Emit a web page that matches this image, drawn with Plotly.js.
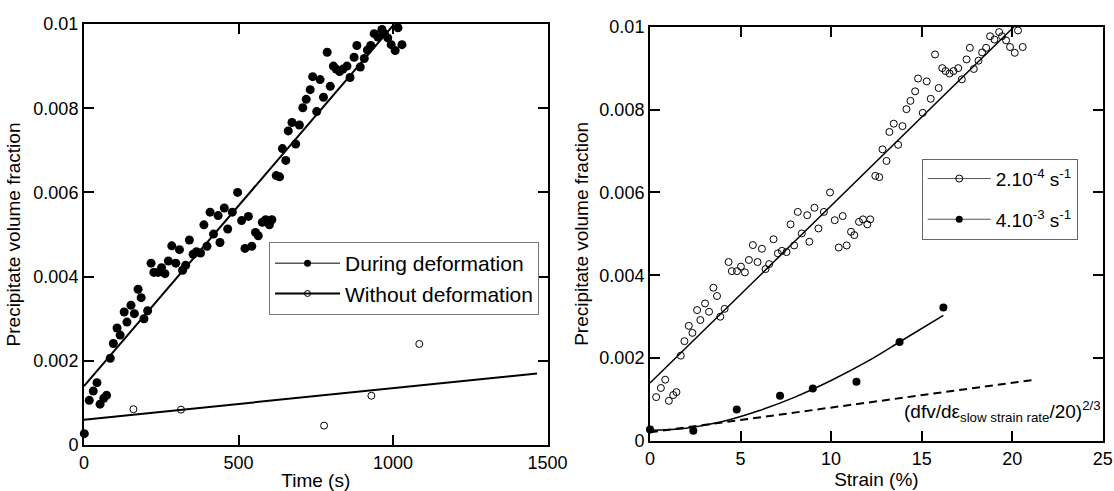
<!DOCTYPE html>
<html>
<head>
<meta charset="utf-8">
<script src="https://cdn.plot.ly/plotly-3.0.1.min.js"></script>
<style>html,body{margin:0;padding:0;background:#fff;}#chart{width:1114px;height:491px;}</style>
</head>
<body>
<div id="chart"></div>
<script>
// ---- Left panel: precipitate volume fraction vs time ----
const timeDuring = [1,17,30,42,52,64,73,85,95,107,117,130,139,152,163,175,185,194,206,217,226,240,251,262,273,284,297,309,319,329,341,353,364,377,388,398,408,419,434,440,454,465,480,497,510,521,532,543,555,564,577,588,600,608,622,633,642,653,661,673,685,697,708,719,732,740,753,764,775,787,797,807,816,827,838,851,861,874,883,894,907,917,928,939,951,964,972,983,994,1007,1016,1029];
const fvDuring = [0.00027,0.00106,0.00128,0.00148,0.00097,0.00111,0.00118,0.00206,0.00241,0.00278,0.00261,0.00316,0.00292,0.00332,0.00312,0.0037,0.0035,0.0030,0.00319,0.00432,0.0041,0.0041,0.00421,0.00407,0.00437,0.00473,0.00432,0.00464,0.00415,0.00427,0.00487,0.00453,0.00459,0.00456,0.00523,0.00472,0.00553,0.00501,0.00545,0.00481,0.00563,0.00513,0.00553,0.0060,0.00533,0.00467,0.00543,0.00472,0.00505,0.00497,0.00529,0.00535,0.00523,0.00535,0.0064,0.00637,0.00704,0.00676,0.00746,0.00766,0.00715,0.0076,0.00801,0.00821,0.00844,0.00875,0.00792,0.00868,0.00826,0.00933,0.00852,0.009,0.00893,0.00887,0.00893,0.009,0.00873,0.00921,0.00949,0.00898,0.00918,0.00938,0.00949,0.00977,0.00969,0.00987,0.00977,0.00967,0.00951,0.00937,0.00991,0.00951];
const timeWithout = [160,314,777,930,1085];
const fvWithout = [0.00085,0.00084,0.00046,0.00117,0.0024];
const fitDuringT = [0,1004];
const fitDuringV = [0.0014,0.01];
const fitWithoutT = [0,1466];
const fitWithoutV = [0.00060,0.0017];

// ---- Right panel: precipitate volume fraction vs strain ----
const strainSlow = [0.34,0.6,0.84,1.04,1.28,1.46,1.7,1.9,2.14,2.34,2.6,2.78,3.04,3.26,3.5,3.7,3.88,4.12,4.34,4.52,4.8,5.02,5.24,5.46,5.68,5.94,6.18,6.38,6.58,6.82,7.06,7.28,7.54,7.76,7.96,8.16,8.38,8.68,8.8,9.08,9.3,9.6,9.94,10.2,10.42,10.64,10.86,11.1,11.28,11.54,11.76,12.0,12.16,12.44,12.66,12.84,13.06,13.22,13.46,13.7,13.94,14.16,14.38,14.64,14.8,15.06,15.28,15.5,15.74,15.94,16.14,16.32,16.54,16.76,17.02,17.22,17.48,17.66,17.88,18.14,18.34,18.56,18.78,19.02,19.28,19.44,19.66,19.88,20.14,20.32,20.58];
const fvSlow = [0.00106,0.00128,0.00148,0.00097,0.00111,0.00118,0.00206,0.00241,0.00278,0.00261,0.00316,0.00292,0.00332,0.00312,0.0037,0.0035,0.0030,0.00319,0.00432,0.0041,0.0041,0.00421,0.00407,0.00437,0.00473,0.00432,0.00464,0.00415,0.00427,0.00487,0.00453,0.00459,0.00456,0.00523,0.00472,0.00553,0.00501,0.00545,0.00481,0.00563,0.00513,0.00553,0.0060,0.00533,0.00467,0.00543,0.00472,0.00505,0.00497,0.00529,0.00535,0.00523,0.00535,0.0064,0.00637,0.00704,0.00676,0.00746,0.00766,0.00715,0.0076,0.00801,0.00821,0.00844,0.00875,0.00792,0.00868,0.00826,0.00933,0.00852,0.009,0.00893,0.00887,0.00893,0.009,0.00873,0.00921,0.00949,0.00898,0.00918,0.00938,0.00949,0.00977,0.00969,0.00987,0.00977,0.00967,0.00951,0.00937,0.00991,0.00951];
const strainFast = [0,2.39,4.79,7.18,8.99,11.4,13.78,16.2];
const fvFast = [0.00028,0.00025,0.00076,0.00109,0.00127,0.00143,0.00239,0.00322];
const fitSlowStrain = [0,20.1];
const fitSlowV = [0.0014,0.01];
const fitFastStrain = [0,2,4,6,8,10,12,14,16.2];
const fitFastV = [0.00026,0.00031,0.00047,0.00073,0.00106,0.00146,0.00192,0.00245,0.00303];
const dashStrain = [0,21.1];
const dashV = [0.00021,0.00147];

const legendLabels = ['During deformation','Without deformation','2.10<sup>-4</sup> s<sup>-1</sup>','4.10<sup>-3</sup> s<sup>-1</sup>'];
const annotText = '(dfv/d\u03b5<sub>slow strain rate</sub>/20)<sup>2/3</sup>';
const yTitle = 'Precipitate volume fraction';

const FONT = 'Liberation Sans, Arial, sans-serif';

const traces = [
  // left panel
  {x: fitDuringT, y: fitDuringV, xaxis:'x', yaxis:'y', mode:'lines', line:{color:'#000', width:2}, showlegend:false, hoverinfo:'skip'},
  {x: fitWithoutT, y: fitWithoutV, xaxis:'x', yaxis:'y', mode:'lines', line:{color:'#000', width:2}, showlegend:false, hoverinfo:'skip'},
  {x: timeDuring, y: fvDuring, xaxis:'x', yaxis:'y', mode:'markers', marker:{symbol:'circle', size:9, color:'#000'}, cliponaxis:false, showlegend:false},
  {x: timeWithout, y: fvWithout, xaxis:'x', yaxis:'y', mode:'markers', marker:{symbol:'circle-open', size:7, color:'#000', line:{width:1}}, cliponaxis:false, showlegend:false},
  {x:[null], y:[null], xaxis:'x', yaxis:'y', mode:'lines+markers', name: legendLabels[0], line:{color:'#000', width:1}, marker:{symbol:'circle', size:7, color:'#000'}, legend:'legend'},
  {x:[null], y:[null], xaxis:'x', yaxis:'y', mode:'lines+markers', name: legendLabels[1], line:{color:'#000', width:2}, marker:{symbol:'circle-open', size:6, color:'#000', line:{width:1}}, legend:'legend'},
  // right panel
  {x: fitSlowStrain, y: fitSlowV, xaxis:'x2', yaxis:'y2', mode:'lines', line:{color:'#000', width:1.5}, showlegend:false, hoverinfo:'skip'},
  {x: fitFastStrain, y: fitFastV, xaxis:'x2', yaxis:'y2', mode:'lines', line:{color:'#000', width:1.5, shape:'spline'}, showlegend:false, hoverinfo:'skip'},
  {x: dashStrain, y: dashV, xaxis:'x2', yaxis:'y2', mode:'lines', line:{color:'#000', width:2, dash:'8px,5px'}, showlegend:false, hoverinfo:'skip'},
  {x: strainSlow, y: fvSlow, xaxis:'x2', yaxis:'y2', mode:'markers', marker:{symbol:'circle-open', size:7, color:'#000', line:{width:1}}, cliponaxis:false, showlegend:false},
  {x: strainFast, y: fvFast, xaxis:'x2', yaxis:'y2', mode:'markers', marker:{symbol:'circle', size:8, color:'#000'}, cliponaxis:false, showlegend:false},
  {x:[null], y:[null], xaxis:'x2', yaxis:'y2', mode:'lines+markers', name: legendLabels[2], legendgroup:'a', line:{color:'#555', width:1}, marker:{symbol:'circle-open', size:7, color:'#000', line:{width:1}}, legend:'legend2'},
  {x:[null], y:[null], xaxis:'x2', yaxis:'y2', mode:'lines+markers', name: legendLabels[3], legendgroup:'b', line:{color:'#555', width:1}, marker:{symbol:'circle', size:7, color:'#000'}, legend:'legend2'}
];

const axisCommon = {
  showline:true, linecolor:'#000', linewidth:2, mirror:'ticks',
  ticks:'inside', ticklen:10, tickwidth:2, tickcolor:'#000',
  showgrid:false, zeroline:false,
  tickfont:{family:FONT, size:18, color:'#000'},
  fixedrange:true
};

const layout = {
  width:1114, height:491,
  margin:{l:0, r:0, t:0, b:0},
  paper_bgcolor:'#fff', plot_bgcolor:'#fff',
  font:{family:FONT, color:'#000'},
  xaxis: Object.assign({}, axisCommon, {domain:[0.0754, 0.4915], range:[0,1500], tick0:0, dtick:500, anchor:'y',
    title:{text:'Time (s)', font:{family:FONT, size:19, color:'#000'}, standoff:4}}),
  yaxis: Object.assign({}, axisCommon, {domain:[0.0937, 0.9511], range:[0,0.01], tick0:0, dtick:0.002, anchor:'x',
    title:{text:yTitle, font:{family:FONT, size:19, color:'#000'}, standoff:8}}),
  xaxis2: Object.assign({}, axisCommon, {domain:[0.5835, 0.9899], range:[0,25], tick0:0, dtick:5, anchor:'y2',
    title:{text:'Strain (%)', font:{family:FONT, size:19, color:'#000'}, standoff:2}}),
  yaxis2: Object.assign({}, axisCommon, {domain:[0.1018, 0.9456], range:[0,0.01], tick0:0, dtick:0.002, anchor:'x2',
    title:{text:yTitle, font:{family:FONT, size:19, color:'#000'}, standoff:6}}),
  legend:{x:0.2415, y:0.5071, xanchor:'left', yanchor:'top', bgcolor:'#fff', bordercolor:'#777', borderwidth:1,
    font:{family:FONT, size:21, color:'#000'}, tracegroupgap:0, itemwidth:65},
  legend2:{x:0.8274, y:0.6768, xanchor:'left', yanchor:'top', bgcolor:'#fff', bordercolor:'#666', borderwidth:1,
    font:{family:FONT, size:19, color:'#000'}, traceorder:'grouped', tracegroupgap:13, itemwidth:63},
  annotations:[
    {xref:'x2', yref:'y2', x:13.9, y:0.00072, xanchor:'left', yanchor:'middle', showarrow:false,
     text: annotText, font:{family:FONT, size:19, color:'#000'}}
  ],
  showlegend:true
};

Plotly.newPlot('chart', traces, layout, {displayModeBar:false, staticPlot:true});
</script>
</body>
</html>
